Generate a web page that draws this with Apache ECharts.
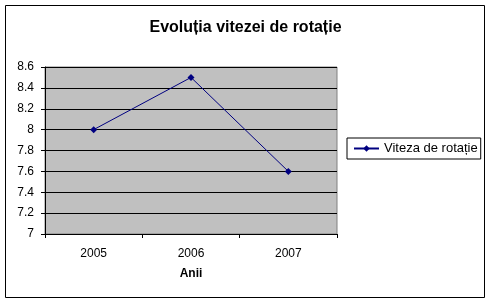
<!DOCTYPE html>
<html>
<head>
<meta charset="utf-8">
<script src="https://cdn.jsdelivr.net/npm/echarts@6/dist/echarts.min.js"></script>
<style>html,body{margin:0;padding:0;background:#fff}#c{width:491px;height:304px}</style>
</head>
<body>
<div id="c"></div>
<script>
var categories = ['2005', '2006', '2007'];
var values = [8.0, 8.5, 7.6];
var seriesName = 'Viteza de rotație';
var titleText = 'Evoluția vitezei de rotație';
var xName = 'Anii';

var chart = echarts.init(document.getElementById('c'), null, {renderer: 'canvas'});
var font = 'Liberation Sans, Arial, sans-serif';
chart.setOption({
  animation: false,
  backgroundColor: '#fff',
  graphic: [{
    type: 'rect', silent: true, z: 100,
    shape: {x: 5.5, y: 5.5, width: 479, height: 292},
    style: {fill: 'none', stroke: '#000', lineWidth: 1}
  }],
  title: {
    text: titleText, left: 'center', top: 15,
    textStyle: {fontFamily: font, fontSize: 16, fontWeight: 'bold', color: '#000'}
  },
  legend: {
    left: 347, top: 138,
    padding: [4, 3, 4, 6],
    borderColor: '#000', borderWidth: 1,
    itemWidth: 25, itemHeight: 8, itemGap: 2,
    textStyle: {fontFamily: font, fontSize: 13, color: '#000'},
    data: [seriesName]
  },
  grid: {
    left: 45, right: 154, top: 67, bottom: 70,
    show: true, backgroundColor: '#C0C0C0', borderColor: '#808080', borderWidth: 1
  },
  xAxis: {
    type: 'category', data: categories, boundaryGap: true,
    name: xName, nameLocation: 'middle', nameGap: 34,
    nameTextStyle: {fontFamily: font, fontSize: 12, fontWeight: 'bold', color: '#000'},
    axisLine: {lineStyle: {color: '#000', width: 1}},
    axisTick: {show: true, length: 4, lineStyle: {color: '#000'}},
    axisLabel: {fontFamily: font, fontSize: 12, color: '#000', margin: 14},
    splitLine: {show: false}
  },
  yAxis: {
    type: 'value', min: 7, max: 8.6, interval: 0.2,
    axisLine: {show: true, lineStyle: {color: '#000', width: 1}},
    axisTick: {show: true, length: 4, lineStyle: {color: '#000'}},
    axisLabel: {fontFamily: font, fontSize: 12, color: '#000', margin: 11,
      formatter: function (v) { return String(Math.round(v * 10) / 10); }},
    splitLine: {show: true, lineStyle: {color: '#000', width: 1}}
  },
  series: [{
    name: seriesName, type: 'line', data: values,
    symbol: 'diamond', symbolSize: 7, showSymbol: true,
    lineStyle: {color: '#000080', width: 1},
    itemStyle: {color: '#000080'}
  }]
});
</script>
</body>
</html>
